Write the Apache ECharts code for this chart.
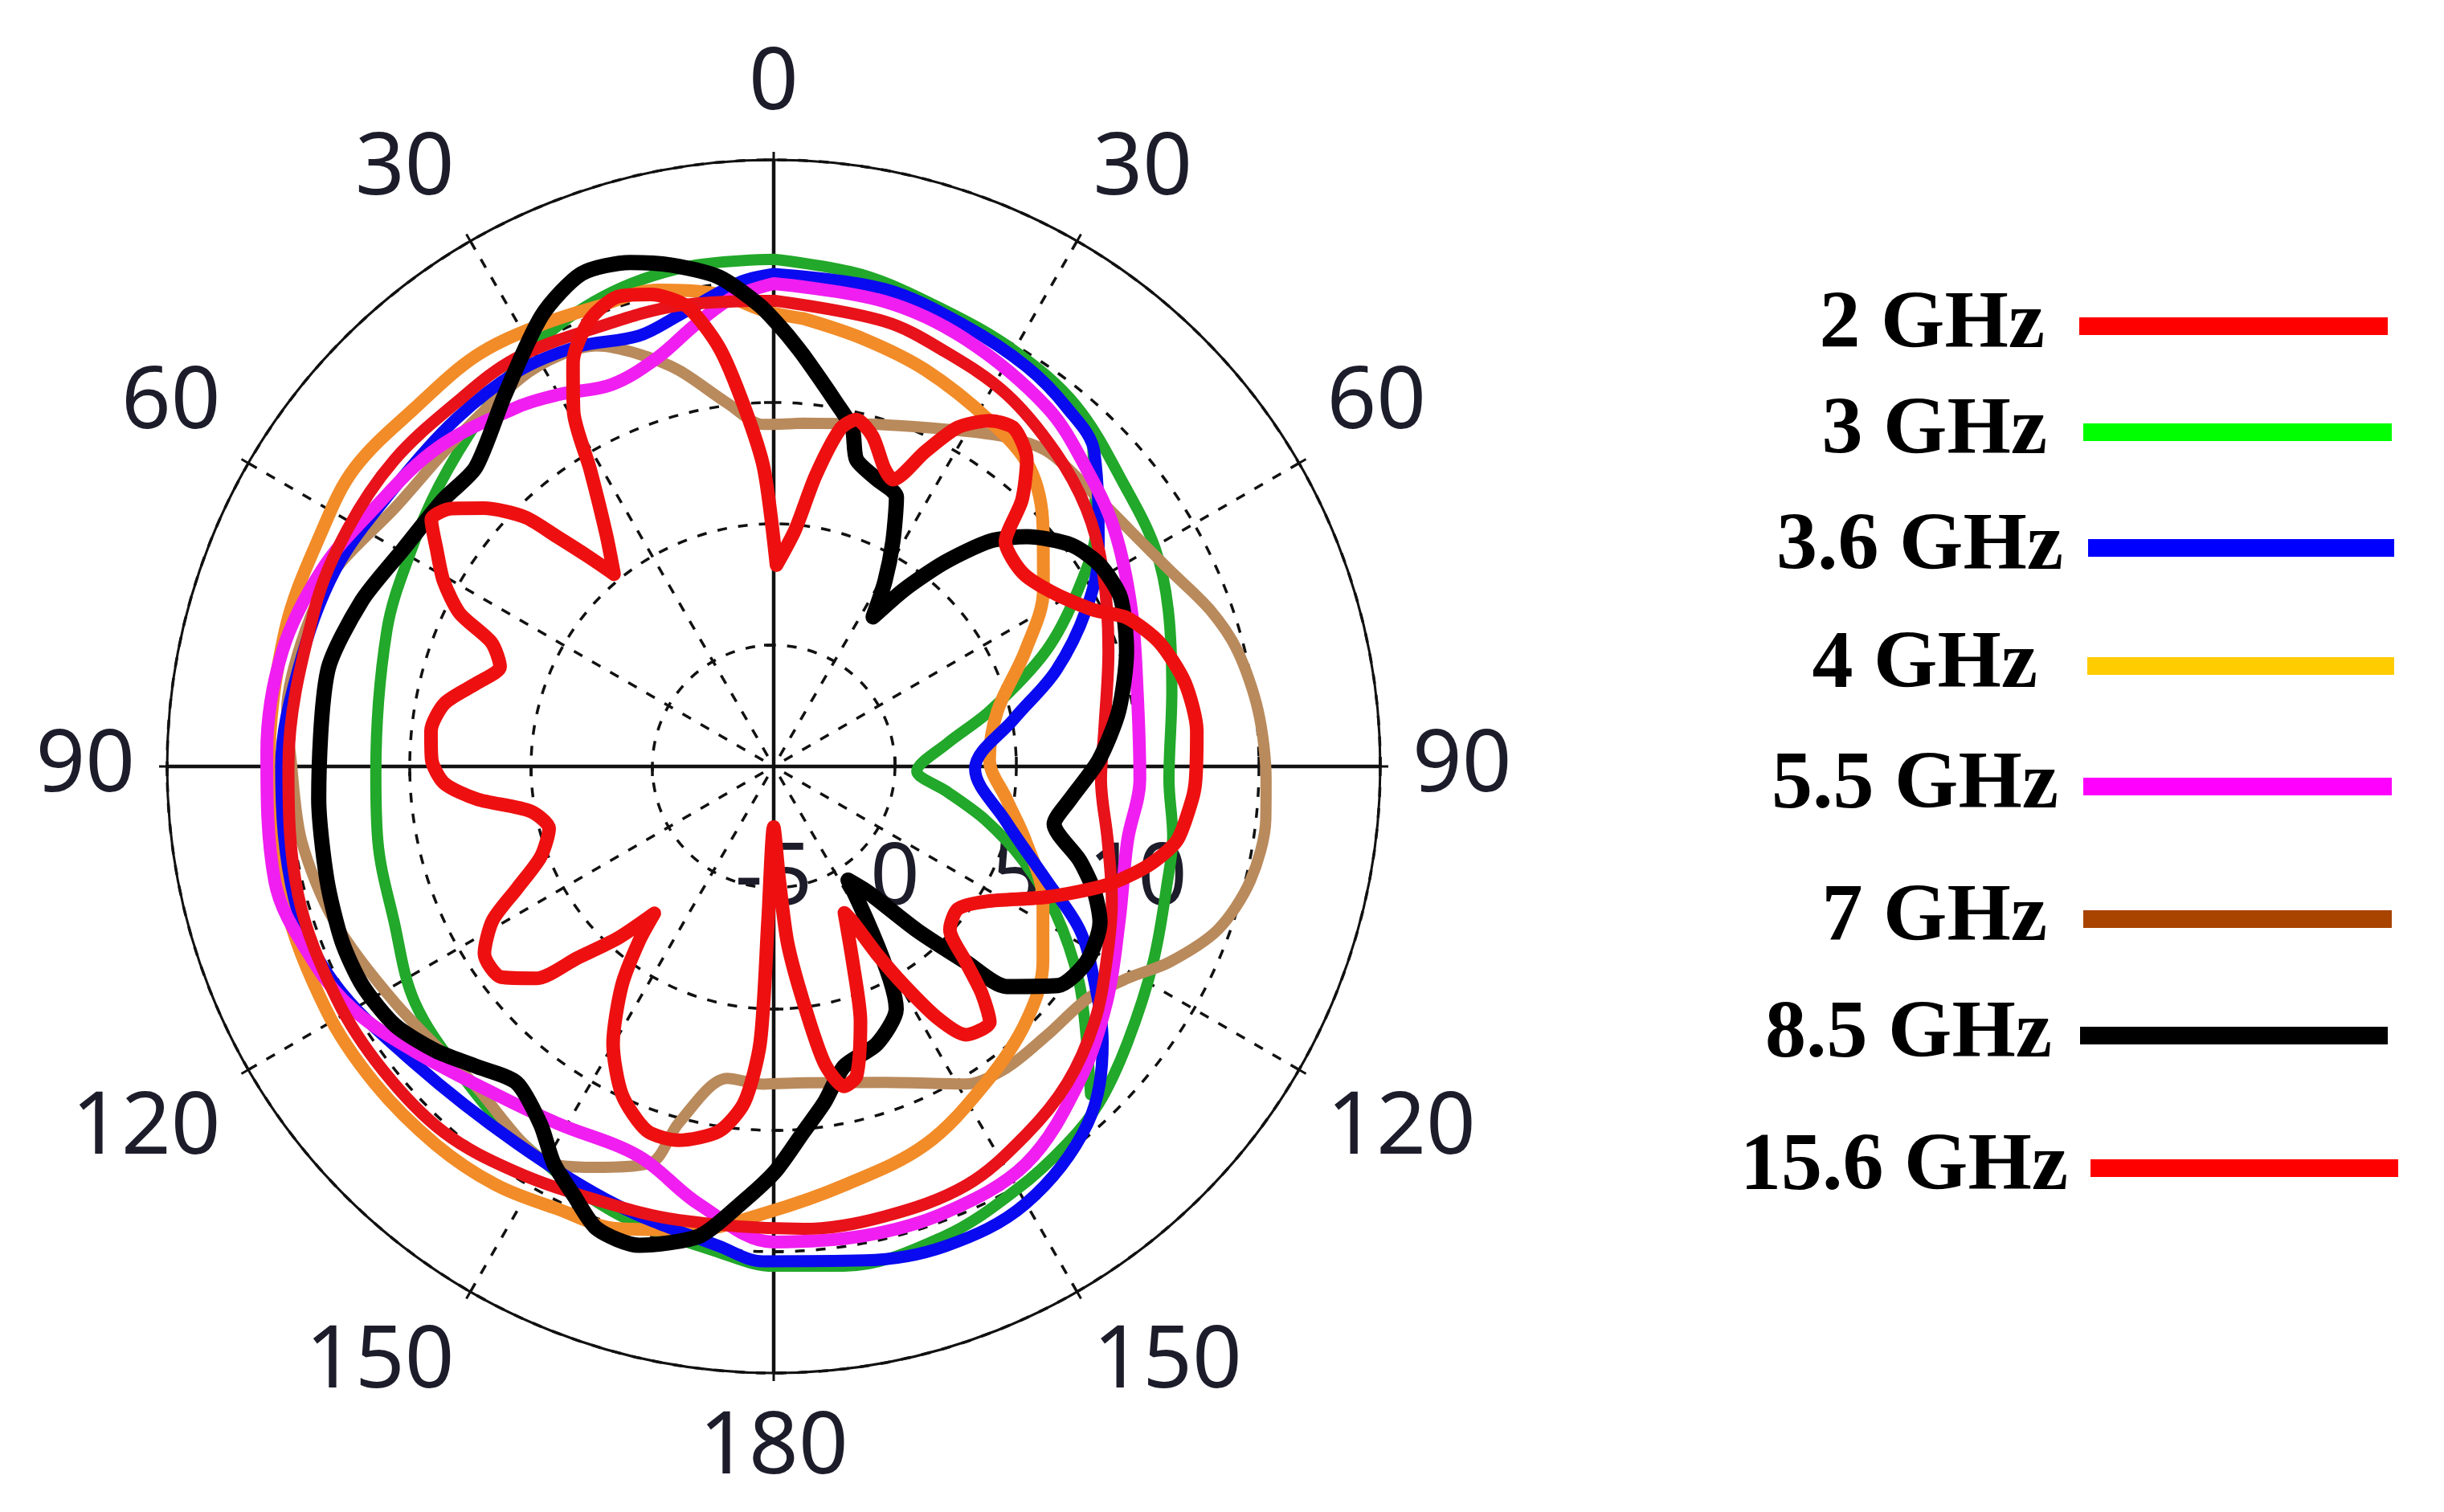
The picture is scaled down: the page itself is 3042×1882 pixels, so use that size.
<!DOCTYPE html>
<html><head><meta charset="utf-8">
<script src="https://cdn.jsdelivr.net/npm/echarts@6/dist/echarts.min.js"></script>
<style>html,body{margin:0;padding:0;background:#fff}#c{width:3042px;height:1882px}</style>
</head><body><div id="c"></div>
<script>
// ---- data: [angle (deg, clockwise from top), level (dB)] ----
const angleTicks = [0, 30, 60, 90, 120, 150, 180];
const radialTicks = [-5, 0, 5, 10];

const red2 = [[0,14.2],[14,13.9],[22.5,13.5],[32,13.1],[41.8,12.4],[50.5,11.7],[59.1,10.8],[70.9,9.6],[83.9,8.7],[92.2,8.5],[102.5,9.1],[111.7,10.0],[120.4,10.9],[128.5,11.9],[137.2,12.8],[145.6,13.4],[155.3,14.0],[166.2,14.1],[176.3,14.1],[191.8,14.1],[202.1,14.3],[212.4,14.8],[222,15.3],[232,15.4],[242,15.4],[255,15.3],[270,15.0],[288.9,15.0],[299.1,15.1],[308.9,15.1],[318.8,14.9],[327.7,14.9],[338.2,14.5],[348.3,14.4]];

const green3 = [[0,15.9],[10,15.6],[20,15.1],[30,14.8],[40,14.4],[51.8,13.5],[60.4,13.1],[68.3,12.5],[79.3,11.7],[91.9,11.3],[100,11.7],[106.1,11.9],[117.3,12.6],[128,13.5],[136,14.3],[142.2,14.7],[150,15.1],[160,15.6],[172,15.8],[180,15.6],[185.9,15.2],[200,14.5],[215,13.6],[225,13.1],[236.7,12.7],[247.8,11.9],[259.4,11.6],[269,11.4],[289.4,11.9],[300.9,12.4],[310,13.0],[320,13.8],[330,14.9],[340,15.6],[350,15.9]];
const green3Notch = [[45,13.6],[53.6,11.5],[59.9,9.5],[67,7.2],[75.6,4.2],[82.5,2.2],[91.9,0.9],[98.2,2.2],[104.2,4.0],[110.7,6.0],[117.5,8.1],[125.2,10.4],[131.4,12.2],[136,13.8]];

const blue36 = [[0,15.3],[13.1,15.2],[23.6,14.8],[32.3,14.5],[39.2,14.1],[45.6,13.5],[56.3,11.1],[63.4,9.4],[71.2,7.3],[78.8,5.1],[90.7,3.3],[103.1,4.8],[112.7,7.2],[118.1,9.3],[123.8,10.9],[130,12.7],[138.7,14.6],[150.1,15.8],[160.3,16.0],[169.6,15.7],[181.2,15.4],[186.5,14.9],[199.6,14.2],[214.2,13.8],[230.4,14.2],[243.9,15.2],[254.4,15.5],[270,15.3],[281.4,15.0],[294.2,14.8],[306.3,14.4],[317.5,14.4],[326.9,14.4],[334.9,14.1],[342.6,13.6],[348.1,14.0],[355.9,15.0]];

const orange4 = [[3.8,13.5],[12,13.0],[20.9,12.5],[32,11.8],[40.7,11.2],[48.6,9.8],[56.7,8.3],[65.4,6.4],[76.1,4.5],[88.1,3.9],[98.1,4.7],[106.3,5.8],[116.5,7.4],[125.9,8.7],[135.4,9.8],[146.2,10.7],[158.2,11.8],[170.4,12.5],[181,13.4],[190,14.4],[198.6,15.1],[206.1,15.3],[213.6,15.7],[221.8,15.9],[231.5,16.0],[241.4,16.0],[255,15.9],[270,15.8],[285.6,15.9],[297.7,16.0],[305.5,16.2],[315.1,15.9],[324.1,15.9],[331.7,15.6],[339,15.3],[346.4,15.2],[353.4,14.6],[358.7,13.8]];

const magenta55 = [[0,14.9],[13.4,14.7],[24.2,14.3],[37.3,13.6],[46.4,12.8],[55.2,12.1],[66.3,11.1],[78.3,10.3],[92,10.1],[101.8,9.9],[114.1,10.6],[125.2,11.8],[136,13.1],[147.6,14.4],[158.9,14.7],[169.1,14.7],[180,14.6],[189.7,13.3],[199.1,12.0],[211.2,12.2],[220.1,12.7],[231.6,13.9],[239.8,15.0],[247,15.6],[257.1,16.1],[271.6,15.9],[283.2,15.8],[293.6,15.3],[302.9,14.6],[313.3,14.1],[324.4,13.2],[330,12.7],[337,12.1],[344,12.5],[350,13.5],[355,14.4]];

const brown7 = [[5.0,9.2],[17.9,9.8],[27.0,10.6],[35.1,11.6],[41.0,12.2],[48.4,12.3],[56.2,12.6],[63.5,13.2],[70.2,14.1],[76.0,14.7],[83.5,15.1],[91.5,15.3],[96.2,15.4],[103.5,15.2],[110.2,14.5],[116.3,13.2],[120.9,12.0],[126.4,11.1],[134.5,10.8],[142.3,10.7],[148.8,10.3],[160.7,8.8],[174.6,8.1],[181.9,8.1],[188.5,8.0],[194.9,10.2],[197.2,12.1],[204.1,13.1],[210.0,13.8],[223.6,13.0],[238.1,13.4],[250.6,14.2],[261.1,14.7],[270.9,14.9],[276.5,15.2],[286.2,15.1],[294.2,14.8],[304.3,13.9],[315.8,13.8],[326.9,14.1],[332.5,14.1],[337.2,13.8],[341.8,12.9],[346.5,11.8],[352.7,10.1],[358.3,9.1]];

const black85 = [[1.8,12.8],[4.1,12.0],[9.8,10.2],[13.1,9.3],[15.1,8.1],[19.5,7.6],[24.5,7.2],[27.9,5.5],[31.0,3.9],[33.6,2.4],[36.5,4.1],[40.0,6.0],[43.9,7.9],[47.8,9.1],[53.4,10.3],[58.3,10.8],[64.0,10.9],[71.9,10.3],[80.9,9.4],[88.9,8.4],[96.3,7.3],[101.6,6.8],[107.1,8.2],[111.4,9.2],[115.5,9.9],[121.9,10.2],[127.6,9.8],[133.4,8.2],[135.5,6.3],[138.8,4.0],[143.1,1.5],[146.8,0.6],[153.2,6.2],[159.6,7.2],[166.8,7.7],[171.4,9.0],[175.3,10.1],[179.8,11.7],[184.4,13.1],[189.0,14.6],[195.7,15.5],[200.9,15.4],[205.0,14.5],[209.0,13.7],[213.1,12.6],[219.1,11.8],[224.7,12.4],[229.9,13.2],[235.6,13.9],[241.9,14.2],[247.9,14.2],[255.7,14.0],[265.9,13.8],[282.1,13.8],[291.9,13.3],[300.4,12.7],[308.9,12.5],[315.1,12.4],[324.1,13.9],[332.8,15.9],[338.7,16.8],[344.1,16.6],[348.4,16.1],[353.6,15.3],[358.3,14.0]];

const red156 = [[0.8,3.3],[5.2,4.8],[8.2,7.1],[11.2,9.2],[13.4,9.7],[16.7,9.2],[20.4,8.1],[22.6,7.8],[25.7,9.4],[28.5,10.9],[32.0,11.8],[35.4,12.1],[39.5,11.4],[43.0,10.0],[45.9,8.3],[52.2,8.0],[58.4,8.6],[64.0,9.7],[67.2,10.8],[72.2,11.7],[78.5,12.3],[85.2,12.5],[91.7,12.4],[94.5,12.3],[100.4,11.9],[104.7,11.0],[109.5,9.6],[115.5,7.5],[122.3,5.4],[127.7,4.6],[132.8,4.9],[135.5,6.3],[137.5,7.7],[139.8,8.8],[144.4,8.6],[146.9,7.4],[149.2,5.5],[151.2,3.8],[153.0,2.2],[154.2,1.7],[158.0,3.7],[161.2,6.1],[165.0,8.2],[167.6,8.5],[170.3,7.4],[172.8,4.8],[175.5,2.3],[177.2,-0.3],[180,-2.5],[182.1,1.4],[182.8,6.4],[185.0,8.9],[188.5,10.2],[194.3,10.9],[199.2,10.9],[204.8,9.9],[210.1,8.2],[214.7,6.0],[217.6,4.1],[219.1,2.8],[222.3,4.6],[225.7,6.3],[228.2,8.1],[232.3,9.2],[237.1,9.2],[241.3,8.2],[244.6,6.7],[248.8,5.3],[254.6,4.6],[259.6,5.2],[263.7,7.3],[267.1,8.6],[271.2,9.1],[275.9,9.2],[280.9,8.8],[285.7,7.7],[290.0,7.0],[293.7,7.7],[296.0,9.4],[299.3,10.6],[302.7,11.5],[305.8,12.4],[308.7,12.0],[311.7,11.0],[315.1,9.5],[316.7,8.0],[318.6,6.5],[320.3,5.3],[324.2,6.8],[328.3,9.4],[330.6,11.8],[333.6,13.6],[337.6,14.9],[341.6,15.4],[345.4,15.1],[349.3,14.3],[352.6,12.4],[355.3,9.9],[358.1,7.3]];

// ---- chart ----
const chart = echarts.init(document.getElementById('c'), null, {renderer:'canvas'});
const CX = 963, CY = 954, R = 755;
const labelFont = {fontFamily:'Noto Sans', fontSize:108, color:'#1c1c2a'};
const gridDash = {color:'#111', width:3.5, type:[12,14]};
const tickStyle = {show:true, length:12, lineStyle:{color:'#111', width:3.5}};

const closed = pts => pts.concat([pts[0]]).map(p => [p[1], p[0]]);
const open = pts => pts.map(p => [p[1], p[0]]);
function line(name, data, color, width, smooth, z) {
  return {name, type:'line', coordinateSystem:'polar', polarIndex:0, data,
    showSymbol:false, symbol:'none', smooth, z, animation:false,
    lineStyle:{color, width, cap:'round', join:'round'}, itemStyle:{color}};
}

const series = [
  line('3 GHz', closed(green3), '#22a82a', 14, 0.35, 2),
  line('3 GHz', open(green3Notch), '#22a82a', 14, 0.3, 2),
  line('7 GHz', closed(brown7), '#b98a5c', 14, 0.3, 3),
  line('4 GHz', closed(orange4), '#f28c28', 16, 0.35, 4),
  line('3.6 GHz', closed(blue36), '#0a0af0', 15, 0.35, 5),
  line('5.5 GHz', closed(magenta55), '#f01ef0', 16, 0.35, 6),
  line('2 GHz', closed(red2), '#e8121a', 15, 0.35, 7),
  line('8.5 GHz', closed(black85), '#000000', 19, 0.25, 8),
  line('15.6 GHz', closed(red156), '#ee1010', 17, 0.25, 9)
];

const legendDefs = [
  {name:'2 GHz',    c:'#ff0000', cy:407,  x0:2588, x1:2972, pad:38},
  {name:'3 GHz',    c:'#00ff00', cy:539,  x0:2593, x1:2977, pad:40},
  {name:'3.6 GHz',  c:'#0000ff', cy:683,  x0:2599, x1:2980, pad:26},
  {name:'4 GHz',    c:'#ffcc00', cy:830,  x0:2598, x1:2980, pad:57},
  {name:'5.5 GHz',  c:'#ff00ff', cy:980,  x0:2593, x1:2977, pad:26},
  {name:'7 GHz',    c:'#a84300', cy:1145, x0:2593, x1:2977, pad:40},
  {name:'8.5 GHz',  c:'#000000', cy:1290, x0:2589, x1:2972, pad:30},
  {name:'15.6 GHz', c:'#ff0000', cy:1455, x0:2602, x1:2985, pad:23}
];
const legends = legendDefs.map(d => ({
  show:true, orient:'vertical', align:'right', padding:0, selectedMode:false,
  right: 3042 - d.x1, top: d.cy - 52,
  itemWidth: d.x1 - d.x0, itemHeight: 22, icon:'rect',
  data:[{name:d.name, itemStyle:{color:d.c, borderWidth:0}}],
  textStyle:{fontFamily:'Liberation Serif', fontWeight:'bold', fontSize:102, color:'#000', padding:[0,d.pad,0,0]}
}));

// polar 0: main grid + angle labels; 1: solid cross; 2: radial labels (axis to the right);
// 3..6: tick-only radius axes along the four half-axes
const polars = [];
for (let i = 0; i < 7; i++) polars.push({center:[CX,CY], radius:R});
const tickAxisAngles = [90, 0, 180, 270];

const angleAxes = [
  {polarIndex:0, type:'value', min:0, max:360, interval:30, startAngle:90, clockwise:true,
   axisLine:{show:true, lineStyle:{color:'#111', width:3}},
   axisTick:{show:true, length:10, lineStyle:{color:'#111', width:3}},
   axisLabel:Object.assign({show:true, margin:40,
      formatter: v => { const a = v <= 180 ? v : 360 - v; return angleTicks.indexOf(a) >= 0 ? String(a) : ''; }}, labelFont),
   splitLine:{show:true, lineStyle:gridDash}},
  {polarIndex:1, type:'value', min:0, max:360, interval:90, startAngle:90, clockwise:true,
   axisLine:{show:false}, axisTick:{show:false}, axisLabel:{show:false},
   splitLine:{show:true, lineStyle:{color:'#111', width:4.5, type:'solid'}}},
  {polarIndex:2, type:'value', min:0, max:360, startAngle:0, clockwise:true, show:false}
];
const radiusAxes = [
  {polarIndex:0, type:'value', min:-5, max:20, interval:5,
   axisLine:{show:false}, axisTick:{show:false}, axisLabel:{show:false},
   splitLine:{show:true, lineStyle:gridDash}},
  {polarIndex:1, type:'value', min:-5, max:20, interval:5, show:false},
  {polarIndex:2, type:'value', min:-5, max:20, interval:5,
   axisLine:{show:false}, axisTick:{show:false}, splitLine:{show:false},
   axisLabel:Object.assign({show:true, margin:-195,
      formatter: v => radialTicks.indexOf(v) >= 0 ? String(v) : ''}, labelFont)}
];
tickAxisAngles.forEach((a, k) => {
  const idx = 3 + k;
  angleAxes.push({polarIndex:idx, type:'value', min:0, max:360, startAngle:a, clockwise:true, show:false});
  radiusAxes.push({polarIndex:idx, type:'value', min:-5, max:20, interval:5,
    axisLine:{show:false}, axisLabel:{show:false}, splitLine:{show:false}, axisTick:tickStyle});
});

const option = {
  backgroundColor:'#ffffff',
  animation:false,
  polar: polars,
  angleAxis: angleAxes,
  radiusAxis: radiusAxes,
  legend: legends,
  series: series
};
chart.setOption(option);
</script></body></html>
